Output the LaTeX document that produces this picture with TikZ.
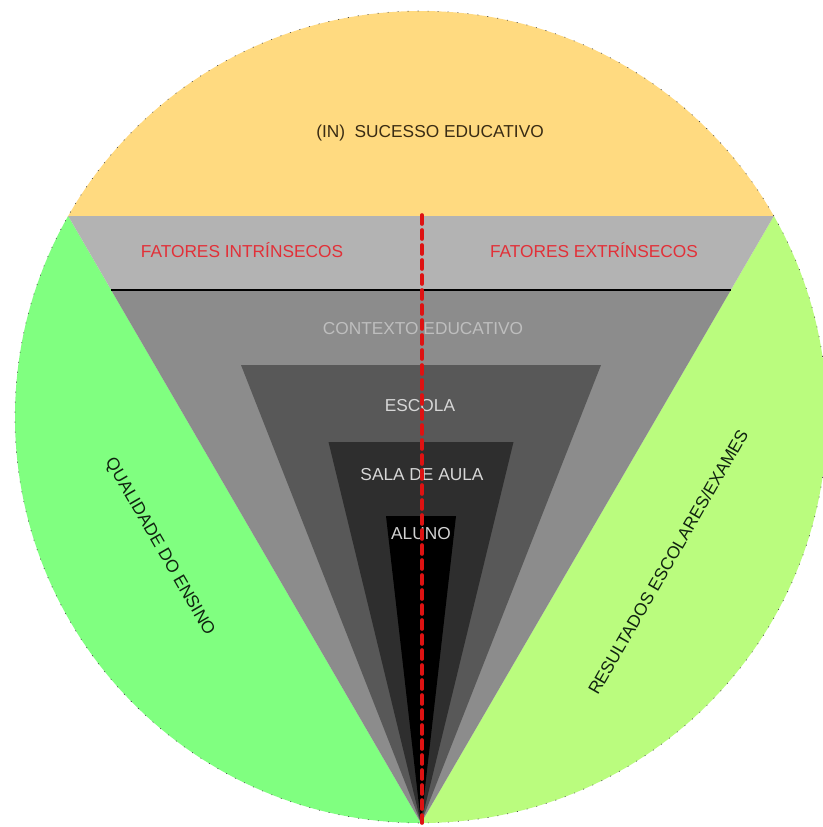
\documentclass[tikz,border=0pt]{standalone}
\usepackage{fontspec}
\setmainfont{Liberation Sans}
\definecolor{topyellow}{RGB}{255,218,128}
\definecolor{leftgreen}{RGB}{128,255,128}
\definecolor{rightgreen}{RGB}{186,252,126}
\definecolor{band}{RGB}{179,179,179}
\definecolor{ctxgray}{RGB}{140,140,140}
\definecolor{escgray}{RGB}{88,88,88}
\definecolor{salagray}{RGB}{46,46,46}
\definecolor{fatred}{RGB}{226,48,56}
\definecolor{browntxt}{RGB}{58,44,20}
\definecolor{greentxt}{RGB}{16,36,16}
\definecolor{dashred}{RGB}{222,18,18}
\begin{document}
\begin{tikzpicture}[x=1pt,y=-1pt,
  lbl/.style={font=\fontsize{17.3}{20}\selectfont, inner sep=0pt, anchor=center, text height=12.4pt, text depth=0pt},
  redline/.style={draw=dashred, line width=3.6pt, dash pattern=on 9pt off 6pt, line cap=round}]
\useasboundingbox (0,0) rectangle (822,827);
\fill[white] (0,0) rectangle (822,827);
\coordinate (C) at (421,417);
\coordinate (TL) at (68.2,216);
\coordinate (TR) at (773.8,216);
\coordinate (apex) at (421,823);
% yellow cap
\begin{scope}
  \clip (0,0) rectangle (822,216);
  \fill[topyellow] (C) circle (406);
\end{scope}
% left green
\begin{scope}
  \clip (-10,216) -- (TL) -- (apex) -- (421,840) -- (-10,840) -- cycle;
  \fill[leftgreen] (C) circle (406);
\end{scope}
% right green
\begin{scope}
  \clip (832,216) -- (TR) -- (apex) -- (421,840) -- (832,840) -- cycle;
  \fill[rightgreen] (C) circle (406);
\end{scope}
% faint dotted rim
\draw[black!75, line width=0.6pt, dash pattern=on 1pt off 9pt] (C) circle (406);
% nested wedges
\fill[band] (TL) -- (TR) -- (apex) -- cycle;
\coordinate (L1) at (111.2,290);
\coordinate (R1) at (730.8,290);
\fill[ctxgray] (L1) -- (R1) -- (apex) -- cycle;
\draw[black, line width=1.4pt] (L1) -- (R1);
\fill[escgray] (241,365) -- (601,365) -- (apex) -- cycle;
\fill[salagray] (328.5,442) -- (513.5,442) -- (apex) -- cycle;
\fill[black] (386,516) -- (456,516) -- (apex) -- cycle;
% texts
\node[lbl, text=browntxt] (sucesso) at (430,131) {(IN)\ \ SUCESSO EDUCATIVO};
\node[lbl, text=fatred] (intr) at (242,251) {FATORES INTRÍNSECOS};
\node[lbl, text=fatred] (extr) at (594,251) {FATORES EXTRÍNSECOS};
\node[lbl, text={rgb,255:red,190;green,190;blue,190}] (contexto) at (423,328) {CONTEXTO EDUCATIVO};
\node[lbl, text={rgb,255:red,215;green,215;blue,215}] (escola) at (420,405) {ESCOLA};
\node[lbl, text={rgb,255:red,215;green,215;blue,215}] (sala) at (422,474) {SALA DE AULA};
\node[lbl, text={rgb,255:red,210;green,210;blue,210}] (aluno) at (421,533) {ALUNO};
\node[lbl, text=greentxt, rotate=-60] (qualidade) at (161,546) {QUALIDADE DO ENSINO};
\node[lbl, text=greentxt, rotate=60] (resultados) at (668,562) {RESULTADOS ESCOLARES/EXAMES};
% red dashed axis
\coordinate (axtop) at (422,215);
\coordinate (axbot) at (422,823);
\draw[redline] (axtop) -- (axbot);
\end{tikzpicture}
\end{document}
